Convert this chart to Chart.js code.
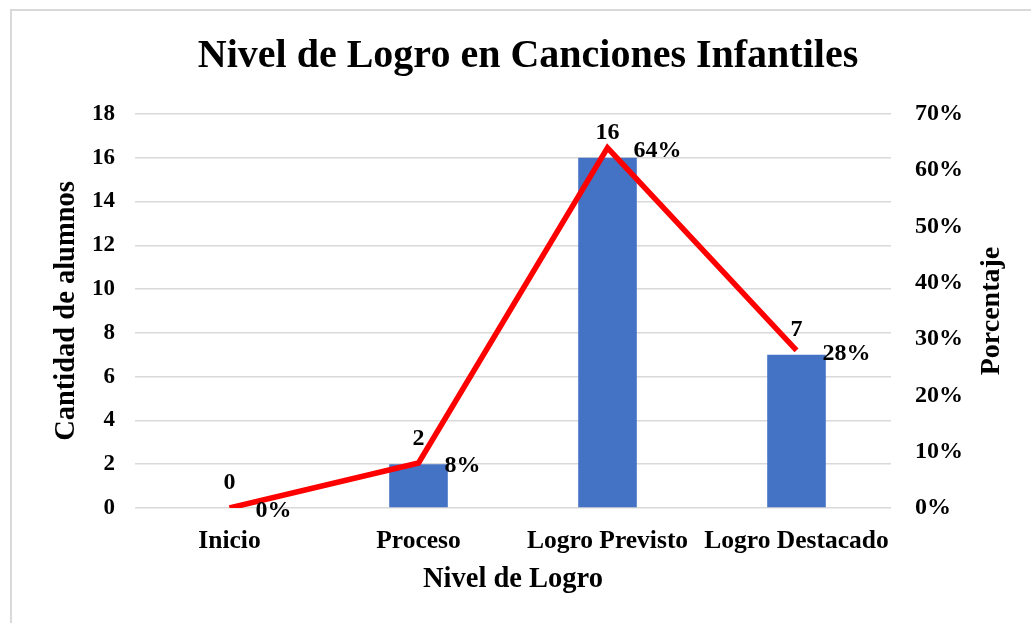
<!DOCTYPE html>
<html>
<head>
<meta charset="utf-8">
<script src="https://cdn.jsdelivr.net/npm/chart.js@4.4.1/dist/chart.umd.min.js"></script>
<style>
  html, body { margin: 0; padding: 0; background: #fff; overflow: hidden; }
  #wrap { position: relative; width: 1031px; height: 623px; }
  #frame { position: absolute; left: 10px; top: 9px; width: 1100px; height: 700px;
           border: 2px solid #d9d9d9; pointer-events: none; box-sizing: border-box; }
  canvas { position: absolute; left: 0; top: 0; }
</style>
</head>
<body>
<div id="wrap">
  <canvas id="c" width="1031" height="623"></canvas>
  <div id="frame"></div>
</div>
<script>
const chartTitle = 'Nivel de Logro en Canciones Infantiles';
const xTitle = 'Nivel de Logro';
const yTitle = 'Cantidad de alumnos';
const y1Title = 'Porcentaje';
const categories = ['Inicio', 'Proceso', 'Logro Previsto', 'Logro Destacado'];
const cantidad = [0, 2, 16, 7];
const porcentaje = [0, 8, 64, 28];

const FONT = '"Liberation Serif", "Times New Roman", serif';

const labelPlugin = {
  id: 'labels',
  afterDatasetsDraw(chart) {
    const ctx = chart.ctx;
    ctx.save();
    ctx.fillStyle = '#000';
    ctx.font = 'bold 24px ' + FONT;
    ctx.textBaseline = 'middle';
    const barMeta = chart.getDatasetMeta(1);
    barMeta.data.forEach((el, i) => {
      ctx.textAlign = 'center';
      ctx.fillText(String(cantidad[i]), el.x, el.y - 25);
    });
    const lineMeta = chart.getDatasetMeta(0);
    lineMeta.data.forEach((el, i) => {
      ctx.textAlign = 'left';
      ctx.fillText(porcentaje[i] + '%', el.x + 26, el.y + 3);
    });
    // right axis title, rotated bottom-to-top
    const s = chart.scales.y1;
    const ca = chart.chartArea;
    ctx.font = 'bold 28px ' + FONT;
    ctx.textAlign = 'center';
    ctx.translate(s.right - 39, (ca.top + ca.bottom) / 2);
    ctx.rotate(-Math.PI / 2);
    ctx.fillText(y1Title, 0, 0);
    ctx.restore();
  }
};

new Chart(document.getElementById('c'), {
  data: {
    labels: categories,
    datasets: [
      {
        type: 'line',
        label: 'Porcentaje',
        data: porcentaje,
        yAxisID: 'y1',
        borderColor: '#ff0000',
        backgroundColor: '#ff0000',
        borderWidth: 5.5,
        pointRadius: 0,
        tension: 0,
        borderJoinStyle: 'miter',
        order: 0
      },
      {
        type: 'bar',
        label: 'Cantidad',
        data: cantidad,
        yAxisID: 'y',
        backgroundColor: '#4472c4',
        barPercentage: 0.31,
        categoryPercentage: 1,
        order: 1
      }
    ]
  },
  options: {
    responsive: false,
    animation: false,
    layout: { padding: { left: 25, right: 0, top: 0, bottom: 0 } },
    plugins: {
      legend: { display: false },
      tooltip: { enabled: false },
      title: {
        display: true,
        text: chartTitle,
        color: '#000',
        font: { family: FONT, size: 40, weight: 'bold', lineHeight: 1.2 },
        padding: { top: 33, bottom: 33 }
      }
    },
    scales: {
      x: {
        grid: { display: false, drawTicks: false },
        border: { display: false },
        ticks: { color: '#000', padding: 18, autoSkip: false, maxRotation: 0, minRotation: 0,
                 font: { family: FONT, size: 25.5, weight: 'bold' } },
        title: { display: true, text: xTitle, color: '#000',
                 font: { family: FONT, size: 28.5, weight: 'bold' }, padding: { top: 0, bottom: 26 } },
        afterFit(s) { s.height = 115; }
      },
      y: {
        position: 'left',
        min: 0, max: 18,
        ticks: { stepSize: 2, color: '#000', padding: 20, font: { family: FONT, size: 23, weight: 'bold' } },
        grid: { color: '#d9d9d9', lineWidth: 1.5, drawTicks: false },
        border: { display: false },
        title: { display: true, text: yTitle, color: '#000',
                 font: { family: FONT, size: 28.5, weight: 'bold' }, padding: { top: 25, bottom: 0 } },
        afterFit(s) { s.width = 110; }
      },
      y1: {
        position: 'right',
        min: 0, max: 70,
        ticks: { stepSize: 10, color: '#000', padding: 24,
                 font: { family: FONT, size: 24, weight: 'bold' },
                 callback: v => v + '%' },
        grid: { display: false, drawTicks: false },
        border: { display: false },
        afterFit(s) { s.width = 140; }
      }
    }
  },
  plugins: [labelPlugin]
});
</script>
</body>
</html>
